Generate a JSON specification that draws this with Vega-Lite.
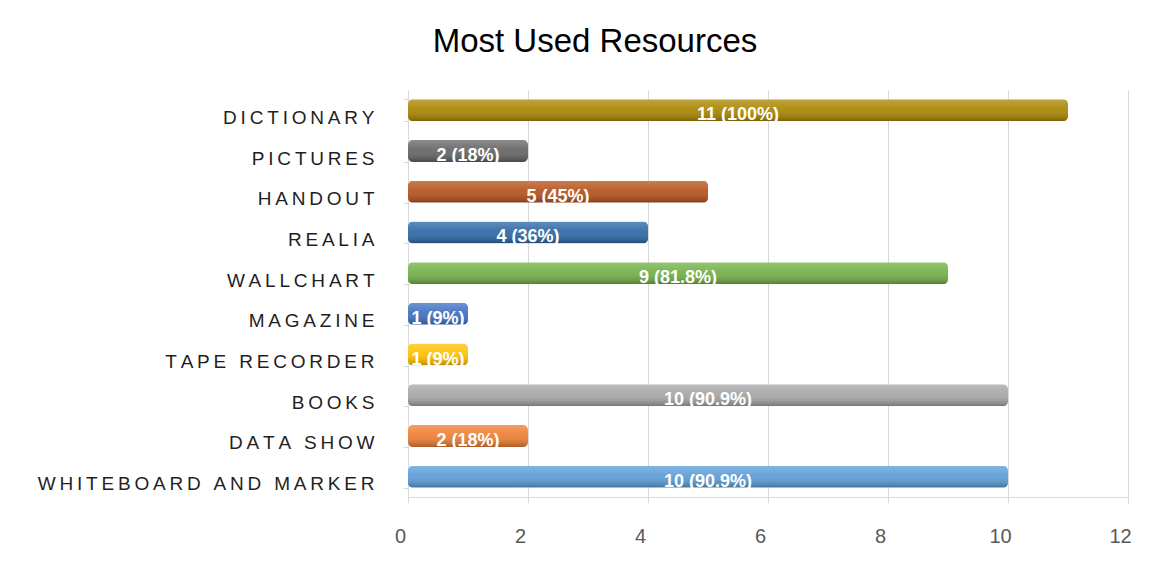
{
  "$schema": "https://vega.github.io/schema/vega-lite/v6.json",
  "width": 720,
  "height": 407,
  "autosize": {"type": "none"},
  "padding": {"left": 408, "top": 90, "right": 47, "bottom": 85},
  "background": "white",
  "title": {"text": "Most Used Resources", "fontSize": 33, "font": "Liberation Sans", "fontWeight": "normal", "color": "#000000", "anchor": "middle", "frame": "group", "dx": -173, "offset": 22},
  "config": {"view": {"stroke": null}},
  "data": {"values": [
    {"resource": "DICTIONARY ", "value": 11, "label": "11 (100%)"},
    {"resource": "PICTURES", "value": 2, "label": "2 (18%)"},
    {"resource": "HANDOUT", "value": 5, "label": "5 (45%)"},
    {"resource": "REALIA", "value": 4, "label": "4 (36%)"},
    {"resource": "WALLCHART", "value": 9, "label": "9 (81.8%)"},
    {"resource": "MAGAZINE", "value": 1, "label": "1 (9%)"},
    {"resource": "TAPE RECORDER", "value": 1, "label": "1 (9%)"},
    {"resource": "BOOKS", "value": 10, "label": "10 (90.9%)"},
    {"resource": "DATA SHOW", "value": 2, "label": "2 (18%)"},
    {"resource": "WHITEBOARD AND MARKER", "value": 10, "label": "10 (90.9%)"}
  ]},
  "transform": [{"calculate": "datum.value/2", "as": "mid"}],
  "encoding": {
    "y": {
      "field": "resource", "type": "nominal", "sort": null,
      "scale": {"paddingInner": 0.46, "paddingOuter": 0.23},
      "axis": {"title": null, "labelFont": "Liberation Sans", "labelFontSize": 19, "labelColor": "#1f1f1f", "labelExpr": "join(split(datum.label,''),'\u2009')", "labelPadding": 29, "labelOffset": 7, "ticks": true, "tickBand": "extent", "tickSize": 5, "tickColor": "#d9d9d9", "domainColor": "#d9d9d9", "labelLimit": 0}
    }
  },
  "layer": [
    {
      "mark": {"type": "bar", "cornerRadius": 5},
      "encoding": {
        "x": {"field": "value", "type": "quantitative", "title": null, "scale": {"domain": [0, 12]},
          "axis": {"title": null, "values": [0, 2, 4, 6, 8, 10, 12], "format": "d", "labelFlush": false, "labelFont": "Liberation Sans", "labelFontSize": 20, "labelColor": "#595959", "labelOffset": -8, "labelPadding": 23, "tickSize": 6, "tickColor": "#d9d9d9", "domainColor": "#d9d9d9", "grid": true, "gridColor": "#d9d9d9"}},
        "color": {"field": "resource", "type": "nominal", "legend": null,
          "scale": {"domain": ["DICTIONARY ", "PICTURES", "HANDOUT", "REALIA", "WALLCHART", "MAGAZINE", "TAPE RECORDER", "BOOKS", "DATA SHOW", "WHITEBOARD AND MARKER"],
            "range": ["#A98500", "#646464", "#B5521A", "#2D67A5", "#72B045", "#3E6FC2", "#FFC000", "#A5A5A5", "#EF7E32", "#5C9DD8"]}}
      }
    },
    {
      "mark": {"type": "bar", "cornerRadius": 5, "color": {"gradient": "linear", "x1": 0, "y1": 0, "x2": 0, "y2": 1, "stops": [
        {"offset": 0, "color": "rgba(255,255,255,0.25)"},
        {"offset": 0.45, "color": "rgba(255,255,255,0.08)"},
        {"offset": 1, "color": "rgba(0,0,0,0.28)"}
      ]}},
      "encoding": {"x": {"field": "value", "type": "quantitative", "title": null}}
    },
    {
      "mark": {"type": "text", "color": "white", "fontWeight": "bold", "fontSize": 18, "font": "Liberation Sans", "dy": 5},
      "encoding": {
        "x": {"field": "mid", "type": "quantitative", "title": null},
        "text": {"field": "label"}
      }
    }
  ]
}
